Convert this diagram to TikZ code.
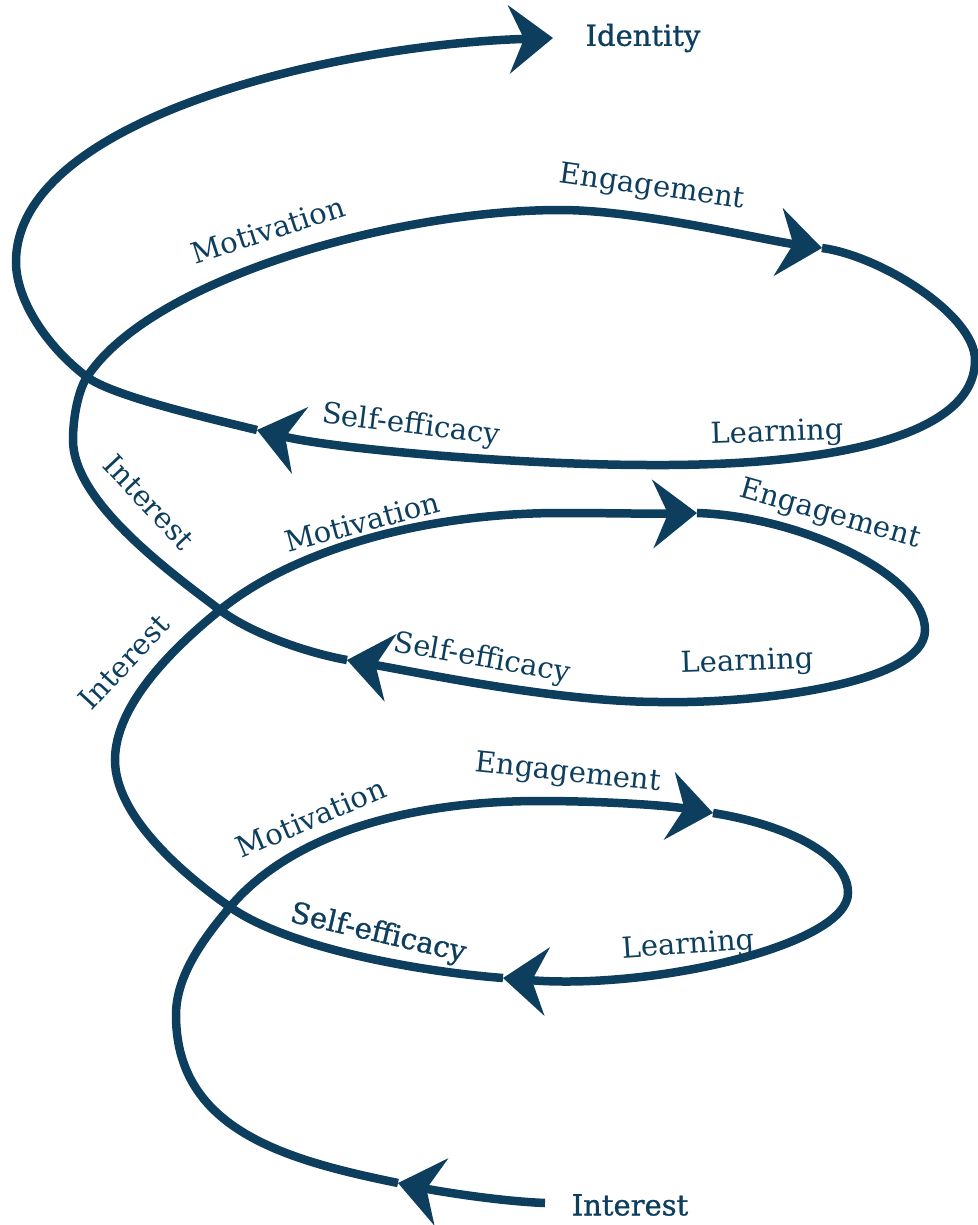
\documentclass[tikz,border=0pt]{standalone}
\usepackage{fontspec}
\setmainfont{DejaVu Serif}
\usetikzlibrary{arrows.meta}
\definecolor{spiral}{HTML}{0D3E5E}
\begin{document}
\begin{tikzpicture}[x=1pt,y=-1pt,
  sp/.style={draw=spiral, line width=8.5pt, -{Stealth[length=44pt,width=68pt,inset=15pt]}},
  lbl/.style={text=spiral, font=\fontsize{29}{32}\selectfont, inner sep=0pt},
  heavy/.style={font=\fontsize{29}{32}\selectfont\addfontfeature{FakeBold=1}}]
\useasboundingbox (0,0) rectangle (977,1225);
% arrow tips
\coordinate (start) at (545,1203);
\coordinate (a0) at (398,1183);
\coordinate (a1) at (713,813);
\coordinate (a2) at (503,978);
\coordinate (a3) at (697,513);
\coordinate (a4) at (347,660);
\coordinate (a5) at (822,248);
\coordinate (a6) at (257,430);
\coordinate (a7) at (553,38);
% crossings, extremes
\coordinate (x1) at (230,907);
\coordinate (x2) at (220,610);
\coordinate (x3) at (87,377);
\coordinate (L0) at (176,1015);
\coordinate (T1) at (540,801);
\coordinate (R1) at (848,893);
\coordinate (L1) at (115,760);
\coordinate (T2) at (560,513);
\coordinate (R2) at (925,630);
\coordinate (B2) at (660,702);
\coordinate (L2) at (73,440);
\coordinate (T3) at (560,210);
\coordinate (R3) at (975,360);
\coordinate (B3) at (650,465);
\coordinate (L3) at (16,262);
% the spiral, one piece per arrow
\draw[sp] (start) .. controls (495,1201) and (432,1190) .. (a0);
\draw[sp] (a0) .. controls (286,1160) and (176,1130) .. (L0)
  .. controls (176,975) and (204,938) .. (x1)
  .. controls (288,838) and (400,801) .. (T1)
  .. controls (600,801) and (664,805) .. (a1);
\draw[sp] (a1) .. controls (782,824) and (848,853) .. (R1)
  .. controls (848,945) and (653,990) .. (a2);
\draw[sp] (a2) .. controls (413,971) and (287,947) .. (x1)
  .. controls (181,873) and (115,815) .. (L1)
  .. controls (115,705) and (173,648) .. (x2)
  .. controls (298,547) and (430,513) .. (T2)
  .. controls (610,513) and (650,514) .. (a3);
\draw[sp] (a3) .. controls (800,516) and (925,575) .. (R2)
  .. controls (925,685) and (750,704) .. (B2)
  .. controls (560,702) and (426,674) .. (a4);
\draw[sp] (a4) .. controls (308,653) and (252,634) .. (x2)
  .. controls (164,568) and (73,500) .. (L2)
  .. controls (73,415) and (79,389) .. (x3)
  .. controls (153,277) and (400,210) .. (T3)
  .. controls (640,210) and (763,240) .. (a5);
\draw[sp] (a5) .. controls (881,256) and (975,315) .. (R3)
  .. controls (975,440) and (820,466) .. (B3)
  .. controls (520,465) and (335,449) .. (a6);
\draw[sp] (a6) .. controls (199,416) and (111,395) .. (x3)
  .. controls (47,347) and (16,300) .. (L3)
  .. controls (16,120) and (330,45) .. (a7);
% labels
\node[lbl,heavy] (identity) at (643,38) {Identity};
\node[lbl,heavy] (interest0) at (630,1205) {Interest};
\node[lbl,rotate=18] (mot3) at (268,230) {Motivation};
\node[lbl,rotate=-8] (eng3) at (652,188) {Engagement};
\node[lbl,rotate=-7] (self3) at (411,426) {Self-efficacy};
\node[lbl,rotate=2] (learn3) at (777,434) {Learning};
\node[lbl,rotate=-47] (int2) at (149,502) {Interest};
\node[lbl,rotate=15] (mot2) at (362,522) {Motivation};
\node[lbl,rotate=-16] (eng2) at (830,515) {Engagement};
\node[lbl,rotate=-10] (self2) at (482,659) {Self-efficacy};
\node[lbl,rotate=2] (learn2) at (747,663) {Learning};
\node[lbl,rotate=47] (int1) at (124,662) {Interest};
\node[lbl,rotate=23] (mot1) at (311,818) {Motivation};
\node[lbl,rotate=-6] (eng1) at (568,774) {Engagement};
\node[lbl,heavy,rotate=-13] (self1) at (378,934) {Self-efficacy};
\node[lbl,rotate=4] (learn1) at (688,946) {Learning};
\end{tikzpicture}
\end{document}
